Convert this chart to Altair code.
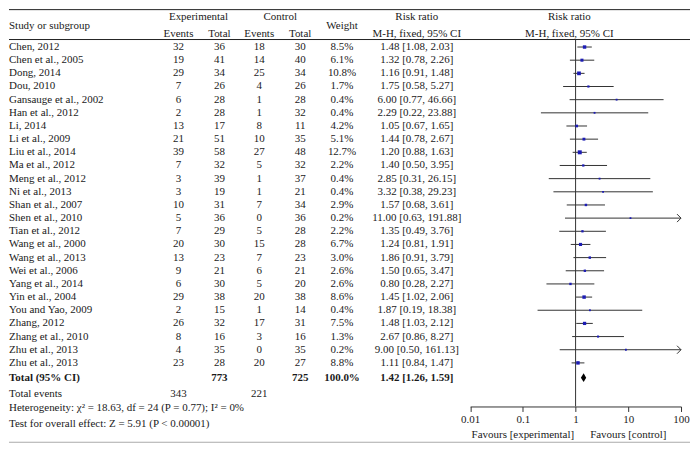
import altair as alt
import pandas as pd

# ---------------- data ----------------
STUDIES = ["Chen, 2012", "Chen et al., 2005", "Dong, 2014", "Dou, 2010",
           "Gansauge et al., 2002", "Han et al., 2012", "Li, 2014", "Li et al., 2009",
           "Liu et al., 2014", "Ma et al., 2012", "Meng et al., 2012", "Ni et al., 2013",
           "Shan et al., 2007", "Shen et al., 2010", "Tian et al., 2012", "Wang et al., 2000",
           "Wang et al., 2013", "Wei et al., 2006", "Yang et al., 2014", "Yin et al., 2004",
           "You and Yao, 2009", "Zhang, 2012", "Zhang et al., 2010", "Zhu et al., 2013",
           "Zhu et al., 2013"]
EXP_EVENTS = [32, 19, 29, 7, 6, 2, 13, 21, 39, 7, 3, 3, 10, 5, 7, 20, 13, 9, 6, 29, 2, 26, 8, 4, 23]
EXP_TOTAL = [36, 41, 34, 26, 28, 28, 17, 51, 58, 32, 39, 19, 31, 36, 29, 30, 23, 21, 30, 38, 15, 32, 16, 35, 28]
CTL_EVENTS = [18, 14, 25, 4, 1, 1, 8, 10, 27, 5, 1, 1, 7, 0, 5, 15, 7, 6, 5, 20, 1, 17, 3, 0, 20]
CTL_TOTAL = [30, 40, 34, 26, 28, 32, 11, 35, 48, 32, 37, 21, 34, 36, 28, 28, 23, 21, 20, 38, 14, 31, 16, 35, 27]
WEIGHT = [8.5, 6.1, 10.8, 1.7, 0.4, 0.4, 4.2, 5.1, 12.7, 2.2, 0.4, 0.4, 2.9, 0.2, 2.2, 6.7,
          3.0, 2.6, 2.6, 8.6, 0.4, 7.5, 1.3, 0.2, 8.8]
RR = [1.48, 1.32, 1.16, 1.75, 6.00, 2.29, 1.05, 1.44, 1.20, 1.40, 2.85, 3.32, 1.57, 11.00,
      1.35, 1.24, 1.86, 1.50, 0.80, 1.45, 1.87, 1.48, 2.67, 9.00, 1.11]
RR_LO = [1.08, 0.78, 0.91, 0.58, 0.77, 0.22, 0.67, 0.78, 0.88, 0.50, 0.31, 0.38, 0.68, 0.63,
         0.49, 0.81, 0.91, 0.65, 0.28, 1.02, 0.19, 1.03, 0.86, 0.50, 0.84]
RR_HI = [2.03, 2.26, 1.48, 5.27, 46.66, 23.88, 1.65, 2.67, 1.63, 3.95, 26.15, 29.23, 3.61,
         191.88, 3.76, 1.91, 3.79, 3.47, 2.27, 2.06, 18.38, 2.12, 8.27, 161.13, 1.47]

TOTAL_EXP, TOTAL_CTL = 773, 725
TOTAL_EXP_EVENTS, TOTAL_CTL_EVENTS = 343, 221
TOTAL_RR, TOTAL_LO, TOTAL_HI = 1.42, 1.26, 1.59
HETEROGENEITY = "Heterogeneity: \u03c7\u00b2 = 18.63, df = 24 (P = 0.77); I\u00b2 = 0%"
OVERALL = "Test for overall effect: Z = 5.91 (P < 0.00001)"
TICKS = [0.01, 0.1, 1, 10, 100]
FAVOURS = ["Favours [experimental]", "Favours [control]"]
FAVOURS_AT = [0.1, 10]

# ---------------- layout / style ----------------
W, H = 683, 398
ROW_TOP, ROW_BOTTOM = -2.841, 27.311
ROWS = {"hdr1": -2.31, "hdr_mid": -1.63, "hdr2": -1.02, "hdr_rule": -0.57,
        "total": 25.12, "events": 26.40, "het": 27.46, "test": 28.67,
        "favours": 29.5, "bottom_rule": 30.03}
COLS = {"study": (0, "left"), "e_ev": (170, "center"), "e_hdr": (190, "center"),
        "e_tot": (211, "center"), "c_ev": (251, "center"), "c_hdr": (272, "center"),
        "c_tot": (292, "center"), "wt": (334, "center"), "rr": (409, "center"),
        "plot_hdr": (562, "center")}
FONT = "Liberation Serif"
FS = 11
TXT = "#1a1a1a"
LINE = "#333333"
BLUE = "#1c1cb4"

ysc = alt.Scale(domain=[ROW_TOP, ROW_BOTTOM], reverse=True, zero=False, nice=False)


def Y(f="row"):
    return alt.Y(f"{f}:Q", scale=ysc, axis=None)


XSC = alt.Scale(type="log", domain=[0.01, 100], range=[462.5, 674])
XAX = alt.Axis(values=TICKS, format="~g", title=None, grid=False, tickSize=5,
               labelFont=FONT, labelFontSize=FS, labelColor=TXT, domainColor=LINE,
               tickColor=LINE, labelPadding=2, labelFlush=False, labelOverlap=False)


def X(f):
    return alt.X(f"{f}:Q", scale=XSC, axis=XAX)


# ---------------- table cells ----------------
cells = []


def add(row, col, text, bold=False):
    cells.append(dict(row=row, col=col, text=str(text), bold=bold))


add(ROWS["hdr1"], "e_hdr", "Experimental")
add(ROWS["hdr1"], "c_hdr", "Control")
add(ROWS["hdr1"], "rr", "Risk ratio")
add(ROWS["hdr1"], "plot_hdr", "Risk ratio")
add(ROWS["hdr_mid"], "study", "Study or subgroup")
add(ROWS["hdr_mid"], "wt", "Weight")
add(ROWS["hdr2"], "e_ev", "Events")
add(ROWS["hdr2"], "e_tot", "Total")
add(ROWS["hdr2"], "c_ev", "Events")
add(ROWS["hdr2"], "c_tot", "Total")
add(ROWS["hdr2"], "rr", "M-H, fixed, 95% CI")
add(ROWS["hdr2"], "plot_hdr", "M-H, fixed, 95% CI")
for i, s in enumerate(STUDIES):
    add(i, "study", s)
    add(i, "e_ev", EXP_EVENTS[i])
    add(i, "e_tot", EXP_TOTAL[i])
    add(i, "c_ev", CTL_EVENTS[i])
    add(i, "c_tot", CTL_TOTAL[i])
    add(i, "wt", f"{WEIGHT[i]:.1f}%")
    add(i, "rr", f"{RR[i]:.2f} [{RR_LO[i]:.2f}, {RR_HI[i]:.2f}]")
add(ROWS["total"], "study", "Total (95% CI)", True)
add(ROWS["total"], "e_tot", TOTAL_EXP, True)
add(ROWS["total"], "c_tot", TOTAL_CTL, True)
add(ROWS["total"], "wt", "100.0%", True)
add(ROWS["total"], "rr", f"{TOTAL_RR:.2f} [{TOTAL_LO:.2f}, {TOTAL_HI:.2f}]", True)
add(ROWS["events"], "study", "Total events")
add(ROWS["events"], "e_ev", TOTAL_EXP_EVENTS)
add(ROWS["events"], "c_ev", TOTAL_CTL_EVENTS)
add(ROWS["het"], "study", HETEROGENEITY)
add(ROWS["test"], "study", OVERALL)
cells_df = pd.DataFrame(cells)

text_layers = []
for (col, bold), sub in cells_df.groupby(["col", "bold"]):
    x, align = COLS[col]
    text_layers.append(
        alt.Chart(sub).mark_text(align=align, baseline="middle", font=FONT, fontSize=FS,
                                 fontWeight="bold" if bold else "normal", color=TXT)
        .encode(x=alt.value(x), y=Y(), text="text:N")
    )

# ---------------- rules ----------------
hr_df = pd.DataFrame({"row": [ROW_TOP, ROWS["hdr_rule"], ROWS["bottom_rule"]],
                      "color": ["#222222", "#222222", "#aaaaaa"]})
hrules = alt.Chart(hr_df).mark_rule(strokeWidth=1).encode(
    y=Y(), x=alt.value(0), x2=alt.value(W), color=alt.Color("color:N", scale=None))

vline = alt.Chart(pd.DataFrame({"x": [1.0], "row": [ROWS["hdr_rule"]], "row2": [ROW_BOTTOM]})) \
    .mark_rule(color=LINE, strokeWidth=1).encode(x=X("x"), y=Y(), y2="row2:Q")

# ---------------- forest ----------------
study_df = pd.DataFrame({"row": list(range(len(STUDIES))), "rr": RR, "lo": RR_LO,
                         "hi": RR_HI, "w": WEIGHT})
ci = alt.Chart(study_df).transform_calculate(hi_c="min(datum.hi, 100)") \
    .mark_rule(color=LINE, strokeWidth=1).encode(x=X("lo"), x2="hi_c:Q", y=Y())
arrows = alt.Chart(study_df).transform_filter("datum.hi > 100") \
    .transform_calculate(hi_c="min(datum.hi, 100)") \
    .mark_point(shape="M -1 -1 L 0 0 L -1 1", filled=False, size=64, strokeWidth=1,
                color=LINE, opacity=1).encode(x=X("hi_c"), y=Y())
squares = alt.Chart(study_df).mark_square(filled=True, color=BLUE, opacity=1).encode(
    x=X("rr"), y=Y(),
    size=alt.Size("w:Q", scale=alt.Scale(domain=[0, 12.7], range=[3, 16]), legend=None))

dia_df = pd.DataFrame({"x": [TOTAL_LO, TOTAL_RR, TOTAL_HI], "half": [0, 0.34, 0]})
diamond = alt.Chart(dia_df).transform_calculate(
    top=f"{ROWS['total']} - datum.half", bot=f"{ROWS['total']} + datum.half") \
    .mark_area(color="black", opacity=1, orient="vertical").encode(x=X("x"), y=Y("top"), y2="bot:Q")

fav_df = pd.DataFrame({"x": FAVOURS_AT, "row": [ROWS["favours"]] * 2, "text": FAVOURS})
fav = alt.Chart(fav_df).mark_text(align="center", baseline="middle", font=FONT, fontSize=FS,
                                  color=TXT).encode(x=X("x"), y=Y(), text="text:N")

chart = alt.layer(hrules, vline, ci, arrows, squares, diamond, fav, *text_layers) \
    .properties(width=W, height=H, padding=0) \
    .configure_view(stroke=None)

chart.save("out.html", embed_options={"renderer": "svg", "actions": False})
